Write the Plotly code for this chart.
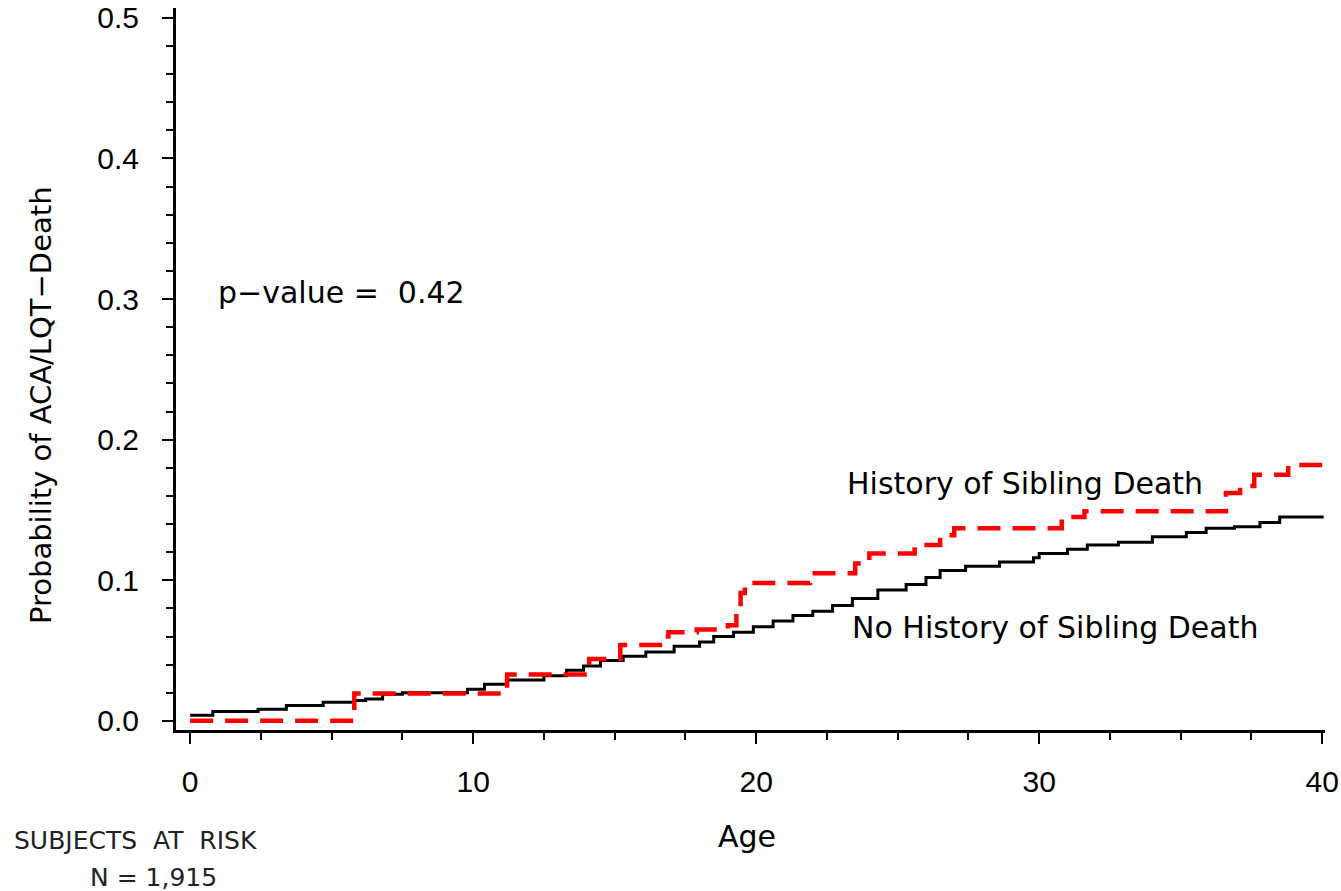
import plotly.graph_objects as go

# ---- data ----
age_no_history = [0, 0.8, 2.4, 3.4, 4.7, 5.8, 6.2, 6.8, 7.5, 9.8, 10.4, 11.2, 12.5, 13.3, 13.9,
                  14.5, 15.3, 16.1, 17.1, 18.0, 18.5, 19.2, 19.9, 20.6, 21.3, 22.0, 22.7, 23.4,
                  24.3, 25.3, 26.0, 26.5, 27.4, 28.6, 29.8, 30.0, 31.0, 31.7, 32.8, 34.0, 35.2,
                  35.9, 36.9, 37.8, 38.5, 40.0]
prob_no_history = [0.004, 0.0066, 0.0083, 0.011, 0.0133, 0.0145, 0.0155, 0.019, 0.020, 0.0225,
                   0.026, 0.029, 0.032, 0.036, 0.039, 0.043, 0.046, 0.049, 0.053, 0.056, 0.060,
                   0.063, 0.067, 0.071, 0.075, 0.078, 0.082, 0.087, 0.093, 0.097, 0.102, 0.107,
                   0.110, 0.113, 0.116, 0.119, 0.122, 0.125, 0.127, 0.131, 0.134, 0.137, 0.138,
                   0.141, 0.145, 0.146]

age_sibling = [0, 5.8, 11.2, 14.1, 15.2, 16.6, 16.9, 17.9, 19.0, 19.3, 19.45, 19.6, 21.9, 23.5,
               24.0, 25.6, 26.5, 27.0, 30.8, 31.6, 36.6, 37.1, 37.6, 38.8, 40.0]
prob_sibling = [0.0, 0.0195, 0.033, 0.044, 0.054, 0.060, 0.063, 0.065, 0.068, 0.080, 0.091,
                0.098, 0.105, 0.112, 0.119, 0.125, 0.132, 0.137, 0.145, 0.149, 0.162, 0.167,
                0.175, 0.182, 0.182]

x_ticks = [0, 10, 20, 30, 40]
y_ticks = [0.0, 0.1, 0.2, 0.3, 0.4, 0.5]
y_tick_labels = ["0.0", "0.1", "0.2", "0.3", "0.4", "0.5"]

label_sibling = "History of Sibling Death"
label_no_history = "No History of Sibling Death"
p_value_text = "p\u2212value =\u00a0 0.42"
x_title = "Age"
y_title = "Probability of ACA/LQT\u2212Death"
risk_title = "SUBJECTS\u00a0 AT\u00a0 RISK"
risk_n = "N = 1,915"

# ---- layout geometry ----
W, H = 1341, 891
L, R, T, B = 176, 16, 8, 161
PW, PH = W - L - R, H - T - B


def px_x(px):
    return (px - L) / PW


def px_y(py):
    return (H - B - py) / PH


TEXT_FONT = "DejaVu Sans"
TICK_FONT = "Liberation Sans, Arial, sans-serif"

fig = go.Figure()
fig.add_trace(go.Scatter(
    x=age_no_history, y=prob_no_history, mode="lines",
    line=dict(color="black", width=3, shape="hv"),
    name=label_no_history, showlegend=False, hoverinfo="skip"))
fig.add_trace(go.Scatter(
    x=age_sibling, y=prob_sibling, mode="lines",
    line=dict(color="#ff0000", width=4.5, shape="hv", dash="23px,12px"),
    name=label_sibling, showlegend=False, hoverinfo="skip"))

annotations = [
    dict(text=p_value_text, x=px_x(341), y=px_y(292), xanchor="center", yanchor="middle",
         font=dict(size=30, family=TEXT_FONT, color="black")),
    dict(text=label_sibling, x=px_x(845), y=px_y(484), xanchor="left", yanchor="middle",
         font=dict(size=30, family=TEXT_FONT, color="black")),
    dict(text=label_no_history, x=px_x(850), y=px_y(627), xanchor="left", yanchor="middle",
         font=dict(size=30, family=TEXT_FONT, color="black")),
    dict(text=x_title, x=px_x(747), y=px_y(836), xanchor="center", yanchor="middle",
         font=dict(size=30, family=TEXT_FONT, color="black")),
    dict(text=y_title, x=px_x(41), y=px_y(405), xanchor="center", yanchor="middle",
         textangle=-90, font=dict(size=29, family=TEXT_FONT, color="black")),
    dict(text=risk_title, x=px_x(12), y=px_y(840), xanchor="left", yanchor="middle",
         font=dict(size=25, family=TEXT_FONT, color="#222222")),
    dict(text=risk_n, x=px_x(88), y=px_y(877), xanchor="left", yanchor="middle",
         font=dict(size=25, family=TEXT_FONT, color="#222222")),
]
for a in annotations:
    a.update(xref="paper", yref="paper", showarrow=False)

fig.update_layout(
    width=W, height=H,
    margin=dict(l=L, r=R, t=T, b=B, pad=0, autoexpand=False),
    paper_bgcolor="white", plot_bgcolor="white",
    showlegend=False,
    annotations=annotations,
)
fig.update_xaxes(
    range=[-0.5, 40.1], showgrid=False, zeroline=False, automargin=False,
    showline=True, linecolor="black", linewidth=3,
    tickmode="array", tickvals=x_ticks, ticktext=[str(v) for v in x_ticks],
    ticks="outside", ticklen=11, tickwidth=2, tickcolor="black",
    ticklabelstandoff=12,
    tickfont=dict(size=30, family=TICK_FONT, color="black"),
    minor=dict(tick0=0, dtick=2.5, ticks="outside", ticklen=7, tickwidth=2, tickcolor="black",
               showgrid=False),
)
fig.update_yaxes(
    range=[-0.0065, 0.507], showgrid=False, zeroline=False, automargin=False,
    showline=True, linecolor="black", linewidth=3,
    tickmode="array", tickvals=y_ticks, ticktext=y_tick_labels,
    ticks="outside", ticklen=11, tickwidth=2, tickcolor="black",
    ticklabelstandoff=17,
    tickfont=dict(size=30, family=TICK_FONT, color="black"),
    minor=dict(tick0=0, dtick=0.02, ticks="outside", ticklen=7, tickwidth=2, tickcolor="black",
               showgrid=False),
)

fig.write_html("out.html", config={"displayModeBar": False},
               post_script="document.body.style.margin='0';document.body.style.overflow='hidden';")
